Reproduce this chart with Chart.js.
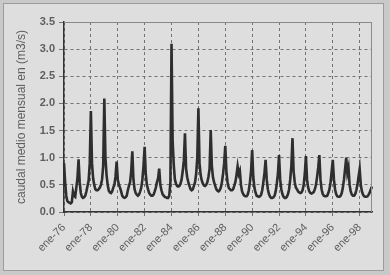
<!DOCTYPE html>
<html>
<head>
<meta charset="utf-8">
<script src="https://cdn.jsdelivr.net/npm/chart.js@4/dist/chart.umd.min.js"></script>
<style>
  html, body { margin: 0; padding: 0; background: #c9c9c9; }
  #wrap { width: 390px; height: 275px; position: relative; }
</style>
</head>
<body>
<div id="wrap"><canvas id="caudalChart" width="390" height="275"></canvas></div>
<script>
// Meses y años de la serie (ene-76 .. dic-98)
const meses = ['ene', 'feb', 'mar', 'abr', 'may', 'jun', 'jul', 'ago', 'sep', 'oct', 'nov', 'dic'];
const anios = ['76', '77', '78', '79', '80', '81', '82', '83', '84', '85', '86', '87',
               '88', '89', '90', '91', '92', '93', '94', '95', '96', '97', '98'];

// Caudal medio mensual (m3/s)
const caudal = [
  0.90, 0.55, 0.30, 0.20, 0.18, 0.17, 0.16, 0.18, 0.38, 0.30, 0.28, 0.45, // 76
  0.62, 0.97, 0.55, 0.35, 0.28, 0.26, 0.27, 0.30, 0.38, 0.48, 0.58, 0.90, // 77
  1.86, 0.90, 0.62, 0.50, 0.42, 0.40, 0.40, 0.42, 0.45, 0.50, 0.60, 0.85, // 78
  2.09, 1.00, 0.68, 0.50, 0.39, 0.36, 0.35, 0.38, 0.45, 0.50, 0.65, 0.93, // 79
  0.60, 0.50, 0.45, 0.38, 0.30, 0.27, 0.26, 0.27, 0.30, 0.40, 0.48, 0.55, // 80
  0.75, 1.12, 0.60, 0.42, 0.35, 0.32, 0.30, 0.32, 0.38, 0.45, 0.60, 0.85, // 81
  1.20, 0.70, 0.50, 0.42, 0.35, 0.32, 0.30, 0.30, 0.32, 0.38, 0.45, 0.55, // 82
  0.62, 0.80, 0.50, 0.40, 0.33, 0.30, 0.28, 0.27, 0.26, 0.26, 0.30, 0.55, // 83
  3.10, 1.30, 0.87, 0.60, 0.52, 0.48, 0.47, 0.48, 0.52, 0.60, 0.75, 0.95, // 84
  1.45, 0.80, 0.64, 0.55, 0.48, 0.42, 0.40, 0.42, 0.48, 0.55, 0.70, 1.00, // 85
  1.91, 0.90, 0.68, 0.58, 0.52, 0.49, 0.48, 0.50, 0.55, 0.65, 0.80, 1.51, // 86
  0.85, 0.64, 0.55, 0.48, 0.42, 0.39, 0.38, 0.40, 0.45, 0.55, 0.70, 0.90, // 87
  1.22, 0.75, 0.55, 0.45, 0.42, 0.40, 0.40, 0.42, 0.48, 0.55, 0.68, 0.84, // 88
  0.70, 0.76, 0.50, 0.38, 0.33, 0.30, 0.29, 0.29, 0.32, 0.40, 0.55, 0.75, // 89
  1.14, 0.65, 0.45, 0.36, 0.30, 0.29, 0.28, 0.29, 0.32, 0.40, 0.55, 0.72, // 90
  0.96, 0.60, 0.42, 0.33, 0.28, 0.26, 0.26, 0.27, 0.30, 0.38, 0.52, 0.70, // 91
  1.05, 0.60, 0.42, 0.33, 0.28, 0.26, 0.26, 0.28, 0.33, 0.42, 0.60, 0.85, // 92
  1.36, 0.75, 0.55, 0.45, 0.42, 0.38, 0.36, 0.35, 0.36, 0.40, 0.50, 0.70, // 93
  1.03, 0.60, 0.45, 0.38, 0.35, 0.34, 0.35, 0.37, 0.42, 0.50, 0.65, 0.82, // 94
  1.05, 0.60, 0.42, 0.33, 0.30, 0.29, 0.29, 0.30, 0.35, 0.42, 0.55, 0.75, // 95
  0.96, 0.60, 0.42, 0.33, 0.29, 0.28, 0.28, 0.30, 0.35, 0.45, 0.60, 0.80, // 96
  1.00, 0.72, 0.82, 0.50, 0.38, 0.32, 0.30, 0.30, 0.33, 0.40, 0.50, 0.65, // 97
  0.79, 0.50, 0.38, 0.32, 0.29, 0.28, 0.28, 0.29, 0.32, 0.36, 0.42, 0.47  // 98
];

// Etiquetas "ene-76", "feb-76", ...
const etiquetas = [];
anios.forEach(a => meses.forEach(m => etiquetas.push(m + '-' + a)));

const GRID = '#727272';
const TEXT = '#5e5e5e';
const FONT = 'Liberation Sans';

// Fondo gris del recuadro y borde del área de trazado
const fondo = {
  id: 'fondo',
  beforeDraw(chart) {
    const c = chart.ctx;
    c.save();
    c.fillStyle = '#c9c9c9';
    c.fillRect(0, 0, chart.width, chart.height);
    c.fillStyle = '#dedede';
    c.fillRect(3, 3, 381, 268);
    c.strokeStyle = '#9c9c9c';
    c.lineWidth = 1;
    c.strokeRect(3.5, 3.5, 380, 267);
    c.restore();
  },
  afterDatasetsDraw(chart) {
    const a = chart.chartArea;
    const c = chart.ctx;
    c.save();
    c.strokeStyle = '#8a8a8a';
    c.lineWidth = 1;
    c.beginPath();
    c.moveTo(a.left, a.top + 0.5);
    c.lineTo(a.right - 0.5, a.top + 0.5);
    c.lineTo(a.right - 0.5, a.bottom);
    c.stroke();
    c.restore();
  }
};

new Chart(document.getElementById('caudalChart'), {
  type: 'line',
  data: {
    labels: etiquetas,
    datasets: [{
      data: caudal,
      borderColor: '#2e2e2e',
      borderWidth: 2.6,
      pointRadius: 0,
      tension: 0,
      fill: false
    }]
  },
  options: {
    responsive: false,
    animation: false,
    layout: { padding: { left: 0, top: 22, right: 18, bottom: 0 } },
    plugins: {
      legend: { display: false },
      tooltip: { enabled: false }
    },
    scales: {
      x: {
        offset: false,
        afterFit: s => { s.height = 63; },
        grid: {
          color: GRID,
          tickLength: 4,
          tickBorderDash: [],
          drawOnChartArea: true
        },
        border: { display: true, color: '#333333', width: 1.5, dash: [3, 3] },
        ticks: {
          autoSkip: false,
          minRotation: 45,
          maxRotation: 45,
          padding: 5,
          color: TEXT,
          font: { family: FONT, size: 11 },
          callback: (v, i) => (i % 24 === 0 ? etiquetas[i] : null)
        }
      },
      y: {
        min: 0,
        max: 3.5,
        afterFit: s => { s.width = 64; },
        grid: {
          color: GRID,
          tickLength: 5,
          tickBorderDash: []
        },
        border: { display: true, color: '#333333', width: 1.5, dash: [3, 3] },
        ticks: {
          stepSize: 0.5,
          padding: 4,
          color: TEXT,
          font: { family: FONT, size: 11, weight: 'bold' },
          callback: v => v.toFixed(1)
        },
        title: {
          display: true,
          text: 'caudal medio mensual en (m3/s)',
          color: TEXT,
          font: { family: FONT, size: 12 },
          padding: { top: 14, bottom: 0 }
        }
      }
    }
  },
  plugins: [fondo]
});
</script>
</body>
</html>
